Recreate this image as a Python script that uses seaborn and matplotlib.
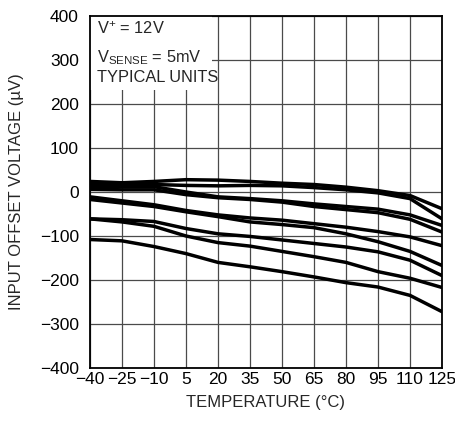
import numpy as np
import pandas as pd
import matplotlib
matplotlib.use("Agg")
import matplotlib.pyplot as plt
import seaborn as sns
from matplotlib.patches import Rectangle

# temperature grid (°C) and offset voltage per unit (µV)
temps = [-40, -25, -10, 5, 20, 35, 50, 65, 80, 95, 110, 125]
unit1 = [24, 21, 24, 28, 27, 24, 20, 17, 11, 3, -8, -38]
unit2 = [18, 17, 17, 15, 14, 15, 14, 10, 5, -2, -15, -61]
unit3 = [13, 12, 12, 0, -11, -15, -20, -27, -33, -39, -52, -76]
unit4 = [6, 5, 5, -6, -13, -17, -23, -33, -40, -47, -62, -91]
unit5 = [-11, -20, -29, -42, -52, -59, -64, -72, -80, -90, -102, -122]
unit6 = [-17, -25, -33, -45, -56, -68, -74, -81, -95, -113, -135, -167]
unit7 = [-61, -63, -67, -83, -95, -101, -109, -117, -125, -136, -155, -190]
unit8 = [-61, -68, -78, -100, -115, -123, -135, -147, -160, -181, -196, -217]
unit9 = [-108, -111, -124, -140, -160, -170, -181, -193, -206, -216, -235, -272]

units = [unit1, unit2, unit3, unit4, unit5, unit6, unit7, unit8, unit9]
yticks = [-400, -300, -200, -100, 0, 100, 200, 300, 400]

rows = []
for i, vals in enumerate(units):
    for t, v in zip(temps, vals):
        rows.append({"temp": t, "vos": v, "unit": i})
df = pd.DataFrame(rows)

sns.set_theme(style="white")
plt.rcParams["font.family"] = ["Liberation Sans Narrow", "Liberation Sans", "DejaVu Sans"]
plt.rcParams["mathtext.default"] = "regular"

fig = plt.figure(figsize=(4.56, 4.26), dpi=100)
ax = fig.add_axes([90 / 456, 1 - 368 / 426, 352 / 456, 352 / 426])

sns.lineplot(data=df, x="temp", y="vos", units="unit", estimator=None,
             color="black", linewidth=2.5, ax=ax, zorder=3)

ax.set_xlim(-40, 125)
ax.set_ylim(-400, 400)
ax.set_xticks(temps)
ax.set_xticklabels([f"{t}".replace("-", "\u2212") for t in temps])
ax.set_yticks(yticks)
ax.set_yticklabels([f"{v}".replace("-", "\u2212") for v in yticks])
ax.grid(True, color="#4a4a4a", linewidth=0.9)
ax.tick_params(axis="both", length=0, labelsize=12.5, colors="black")
ax.tick_params(axis="y", pad=8)
ax.tick_params(axis="x", pad=3)
for s in ax.spines.values():
    s.set_color("black")
    s.set_linewidth(1.3)

ax.set_xlabel("TEMPERATURE (°C)", fontsize=12, labelpad=6)
ax.set_ylabel("INPUT OFFSET VOLTAGE (µV)", fontsize=12, labelpad=11)

# white label box over the grid in the upper left
ax.add_patch(Rectangle((0, (368 - 90) / 352), (212 - 90) / 352, 1 - (368 - 90) / 352,
                       transform=ax.transAxes, facecolor="white", edgecolor="none",
                       zorder=2.5))
ax.text(0.02, 0.963, r"V$^{+}$ = 12V", transform=ax.transAxes, fontsize=11.8,
        va="center", ha="left", zorder=4)
ax.text(0.02, 0.882, r"V$_{SENSE}$ = 5mV", transform=ax.transAxes, fontsize=11.8,
        va="center", ha="left", zorder=4)
ax.text(0.02, 0.826, "TYPICAL UNITS", transform=ax.transAxes, fontsize=11.8,
        va="center", ha="left", zorder=4)

fig.savefig("out.png", dpi=100)
